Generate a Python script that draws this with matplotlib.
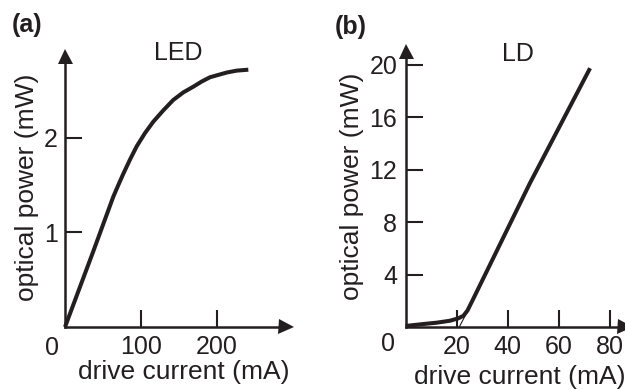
import numpy as np
import matplotlib
matplotlib.use("Agg")
import matplotlib.pyplot as plt

plt.rcParams['font.family'] = ['Liberation Sans', 'DejaVu Sans']

ink = '#231f20'

# LED: optical power (mW) vs drive current (mA)
led_current = [0, 37.2, 63.5, 70.1, 76.7, 85.5, 94.3, 105.2, 116.1, 129.3,
               142.4, 155.6, 168.7, 179.8, 190.7, 212.7, 225.8, 241.1]
led_power = [0, 0.80, 1.377, 1.50, 1.62, 1.77, 1.91, 2.05, 2.17, 2.29,
             2.40, 2.48, 2.54, 2.595, 2.64, 2.69, 2.71, 2.72]
led_xticks = [100, 200]
led_yticks = [1, 2]

# LD: optical power (mW) vs drive current (mA)
ld_current = [0, 5.6, 12.2, 17.4, 20.6, 22.6, 24.2, 26.0, 48.7, 72.3]
ld_power = [0.08, 0.2, 0.33, 0.48, 0.66, 0.85, 1.25, 1.95, 10.97, 19.75]
ld_thr_x = [21, 24.5]   # thin threshold extrapolation line
ld_thr_y = [0, 1.3]
ld_xticks = [20, 40, 60, 80]
ld_yticks = [4, 8, 12, 16, 20]

W, H = 625, 390
fig = plt.figure(figsize=(W / 100, H / 100), dpi=100)

TICK_FS = 18
LABEL_FS = 19


def px_axes(left, right, top, bottom):
    return fig.add_axes([left / W, 1 - bottom / H, (right - left) / W, (bottom - top) / H])


def style(ax, ypad):
    ax.spines[['top', 'right']].set_visible(False)
    for s in ['left', 'bottom']:
        ax.spines[s].set_linewidth(1.8)
        ax.spines[s].set_color(ink)
    ax.tick_params(direction='in', length=12, width=1.5, color=ink,
                   labelsize=TICK_FS, labelcolor=ink)
    ax.tick_params(axis='x', pad=6)
    ax.tick_params(axis='y', pad=ypad)
    ax.set_facecolor('none')
    # arrow heads at the axis ends
    ax.plot(1, 0, '>', ms=10.8, mew=0, color=ink,
            transform=ax.get_yaxis_transform(), clip_on=False)
    ax.plot(0, 1, '^', ms=10.8, mew=0, color=ink,
            transform=ax.get_xaxis_transform(), clip_on=False)


# ---- (a) LED
ax1 = px_axes(65, 285.5, 55.5, 327)
ax1.set_xlim(0, 290)
ax1.set_ylim(0, 2.87)
ax1.plot(led_current, led_power, color=ink, lw=2.9, clip_on=False,
         solid_capstyle='butt', solid_joinstyle='round')
ax1.set_xticks(led_xticks)
ax1.set_yticks(led_yticks)
style(ax1, 5)
ax1.annotate('0', xy=(0, 0), xytext=(-13, -21), textcoords='offset pixels',
             ha='center', va='center', fontsize=TICK_FS, color=ink)
ax1.text(148.7, 2.894, 'LED', ha='center', va='center', fontsize=TICK_FS, color=ink)
ax1.set_xlabel('drive current (mA)', fontsize=LABEL_FS, color=ink, va='center')
ax1.xaxis.set_label_coords(0.54, -0.166)
ax1.set_ylabel('optical power (mW)', fontsize=LABEL_FS, color=ink)
ax1.yaxis.label.set_va('center')
ax1.yaxis.set_label_coords(-0.172, 0.516)

# ---- (b) LD
ax2 = px_axes(405.7, 625, 50.5, 327)
ax2.set_xlim(0, 86)
ax2.set_ylim(0, 21.1)
ax2.plot(ld_thr_x, ld_thr_y, color=ink, lw=0.8)
ax2.plot(ld_current, ld_power, color=ink, lw=2.9, clip_on=False,
         solid_capstyle='butt', solid_joinstyle='round')
ax2.set_xticks(ld_xticks)
ax2.set_yticks(ld_yticks)
style(ax2, 6)
ax2.annotate('0', xy=(0, 0), xytext=(-18, -17), textcoords='offset pixels',
             ha='center', va='center', fontsize=TICK_FS, color=ink)
ax2.text(44.2, 20.8, 'LD', ha='center', va='center', fontsize=TICK_FS, color=ink)
ax2.set_xlabel('drive current (mA)', fontsize=LABEL_FS, color=ink, va='center')
ax2.xaxis.set_label_coords(0.521, -0.181)
ax2.set_ylabel('optical power (mW)', fontsize=LABEL_FS, color=ink)
ax2.yaxis.label.set_va('center')
ax2.yaxis.set_label_coords(-0.243, 0.51)

fig.text(12 / W, 1 - 13 / H, '(a)', fontsize=18, fontweight='bold',
         ha='left', va='top', color=ink)
fig.text(335 / W, 1 - 15 / H, '(b)', fontsize=18, fontweight='bold',
         ha='left', va='top', color=ink)

fig.savefig('out.png', dpi=100)
